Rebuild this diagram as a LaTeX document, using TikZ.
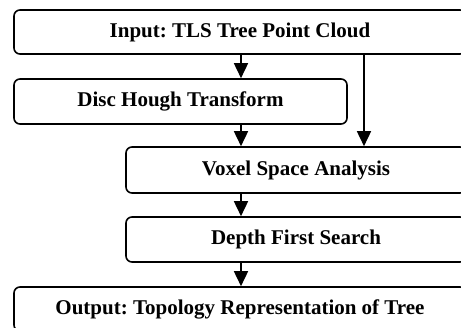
\documentclass[tikz,border=0pt]{standalone}
\usepackage{fontspec}
\setmainfont{Liberation Serif}
\frenchspacing
\usetikzlibrary{arrows.meta}
\begin{document}
\begin{tikzpicture}[x=1pt,y=-1pt,
  stepbox/.style={draw, line width=1.6pt, rounded corners=6pt, inner sep=0pt,
    font=\fontsize{21}{24}\selectfont\bfseries},
  flow/.style={line width=1.6pt, -{Triangle[length=15pt,width=14pt]}}]
  \useasboundingbox (0,0) rectangle (461,327);
  \clip (0,0) rectangle (461,327);
  % processing steps
  \node[stepbox, minimum width=452pt, minimum height=44pt] (in)     at (240,32)    {Input: TLS Tree Point Cloud};
  \node[stepbox, minimum width=333pt, minimum height=45pt] (hough)  at (180.5,101.5) {Disc Hough Transform};
  \node[stepbox, minimum width=340pt, minimum height=46pt] (voxel)  at (296,170)   {Voxel Space Analysis};
  \node[stepbox, minimum width=340pt, minimum height=45pt] (dfs)    at (296,239.5) {Depth First Search};
  \node[stepbox, minimum width=452pt, minimum height=44pt] (out)    at (240,309)   {Output: Topology Representation of Tree};
  % columns of the connectors
  \coordinate (c1) at (241,0);
  \coordinate (c2) at (364,0);
  \draw[flow] (in.south -| c1) -- (hough.north -| c1);
  \draw[flow] (hough.south -| c1) -- (voxel.north -| c1);
  \draw[flow] (voxel.south -| c1) -- (dfs.north -| c1);
  \draw[flow] (dfs.south -| c1) -- (out.north -| c1);
  \draw[flow] (in.south -| c2) -- (voxel.north -| c2);
\end{tikzpicture}
\end{document}
